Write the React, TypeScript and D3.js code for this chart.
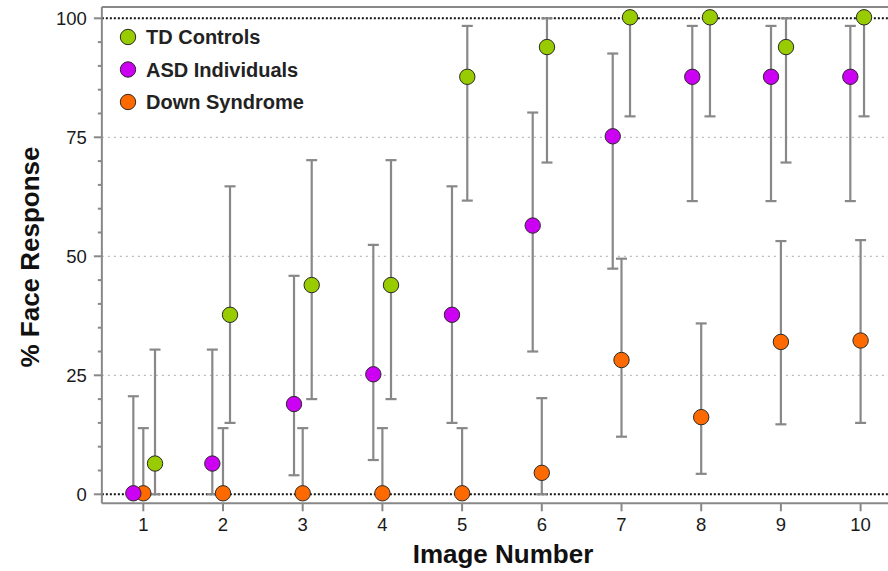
import React from "react";
import * as d3 from "d3";

// data
const images = [1, 2, 3, 4, 5, 6, 7, 8, 9, 10];

const tdX = [1.147, 2.088, 3.113, 4.108, 5.065, 6.065, 7.107, 8.11, 9.064, 10.043];
const tdMean = [6.25, 37.5, 43.75, 43.75, 87.5, 93.75, 100, 100, 93.75, 100];
const tdLow = [0, 15, 20, 20, 61.7, 69.7, 79.4, 79.4, 69.7, 79.4];
const tdHigh = [30.4, 64.7, 70.2, 70.2, 98.4, 100, 100, 100, 100, 100];

const asdX = [0.875, 1.866, 2.891, 3.886, 4.873, 5.886, 6.89, 7.888, 8.876, 9.871];
const asdMean = [0, 6.25, 18.75, 25, 37.5, 56.25, 75, 87.5, 87.5, 87.5];
const asdLow = [0, 0, 4.0, 7.2, 15, 30, 47.4, 61.6, 61.6, 61.6];
const asdHigh = [20.6, 30.4, 45.9, 52.4, 64.7, 80.2, 92.6, 98.4, 98.4, 98.4];

const dsX = images;
const dsMean = [0, 0, 0, 0, 0, 4.3, 28, 16, 31.8, 32.1];
const dsLow = [0, 0, 0, 0, 0, 0, 12.1, 4.3, 14.7, 15];
const dsHigh = [13.9, 13.9, 13.9, 13.9, 13.9, 20.2, 49.5, 35.9, 53.2, 53.4];

const yTicks = [0, 25, 50, 75, 100];
const legendLabels = ["TD Controls", "ASD Individuals", "Down Syndrome"];

const font = "'Liberation Sans', Arial, Helvetica, sans-serif";

const series = [
  { name: "Down Syndrome", color: "#ff6a00", xs: dsX, mean: dsMean, low: dsLow, high: dsHigh },
  { name: "TD Controls", color: "#99cc00", xs: tdX, mean: tdMean, low: tdLow, high: tdHigh },
  { name: "ASD Individuals", color: "#cc00f2", xs: asdX, mean: asdMean, low: asdLow, high: asdHigh },
];
const legendColors = ["#99cc00", "#cc00f2", "#ff6a00"];

export default function App() {
  const width = 888;
  const height = 571;

  const x = d3.scaleLinear().domain([1, 10]).range([143.3, 860.6]);
  const y = d3.scaleLinear().domain([0, 100]).range([494.3, 18.3]);

  const left = x(0.48);
  const top = 7;
  const bottom = 503.3;
  const right = width;

  const minor = d3.range(0, 101, 5).filter(v => v % 25 !== 0);
  const r = 7.7;
  const cap = 5.5;

  return (
    <svg width={width} height={height} style={{ position: "absolute", left: 0, top: 0, background: "#fff" }} fontFamily={font}>
      {/* grid */}
      {yTicks.map(t => {
        const edge = t === 0 || t === 100;
        return (
          <line key={"g" + t} x1={left} x2={right} y1={y(t)} y2={y(t)}
            stroke={edge ? "#111" : "#aaa"} strokeWidth={edge ? 2 : 1}
            strokeDasharray={edge ? "2 2" : "2 4"} />
        );
      })}

      {/* frame */}
      <line x1={left} x2={left} y1={top} y2={bottom} stroke="#888" strokeWidth={2} />
      <line x1={left} x2={right} y1={top} y2={top} stroke="#888" strokeWidth={2} />
      <line x1={left} x2={right} y1={bottom} y2={bottom} stroke="#888" strokeWidth={2} />

      {/* y ticks */}
      {yTicks.map(t => (
        <g key={"yt" + t}>
          <line x1={left - 8} x2={left} y1={y(t)} y2={y(t)} stroke="#888" strokeWidth={2} />
          <text x={left - 15} y={y(t)} dy="0.36em" textAnchor="end" fontSize={18.5} fill="#1a1a1a">{t}</text>
        </g>
      ))}
      {minor.map(t => (
        <line key={"m" + t} x1={left - 4} x2={left} y1={y(t)} y2={y(t)} stroke="#888" strokeWidth={2} />
      ))}

      {/* x ticks */}
      {images.map(i => (
        <g key={"xt" + i}>
          <line x1={x(i)} x2={x(i)} y1={bottom} y2={bottom + 8} stroke="#888" strokeWidth={2} />
          <text x={x(i)} y={530.5} textAnchor="middle" fontSize={18.5} fill="#1a1a1a">{i}</text>
        </g>
      ))}

      {/* error bars */}
      {series.map(s =>
        s.xs.map((xv, i) => (
          <g key={s.name + "e" + i} stroke="#888" strokeWidth={2.2}>
            <line x1={x(xv)} x2={x(xv)} y1={y(s.low[i])} y2={y(s.high[i])} />
            <line x1={x(xv) - cap} x2={x(xv) + cap} y1={y(s.high[i])} y2={y(s.high[i])} />
            <line x1={x(xv) - cap} x2={x(xv) + cap} y1={y(s.low[i])} y2={y(s.low[i])} />
          </g>
        ))
      )}

      {/* points */}
      {series.map(s =>
        s.xs.map((xv, i) => (
          <circle key={s.name + "p" + i} cx={x(xv)} cy={y(s.mean[i]) - 1} r={r}
            fill={s.color} stroke="#2a2a2a" strokeWidth={1} />
        ))
      )}

      {/* legend */}
      {legendLabels.map((l, i) => (
        <g key={l} transform={`translate(128, ${37 + i * 32.5})`}>
          <circle r={r} fill={legendColors[i]} stroke="#2a2a2a" strokeWidth={1} />
          <text x={18} dy="0.36em" fontSize={20} fontWeight="bold" fill="#222">{l}</text>
        </g>
      ))}

      {/* axis titles */}
      <text x={503} y={563} textAnchor="middle" fontSize={26} fontWeight="bold" fill="#111">Image Number</text>
      <text transform={`translate(39, 257) rotate(-90)`} textAnchor="middle" fontSize={26} fontWeight="bold" fill="#111">% Face Response</text>
    </svg>
  );
}
